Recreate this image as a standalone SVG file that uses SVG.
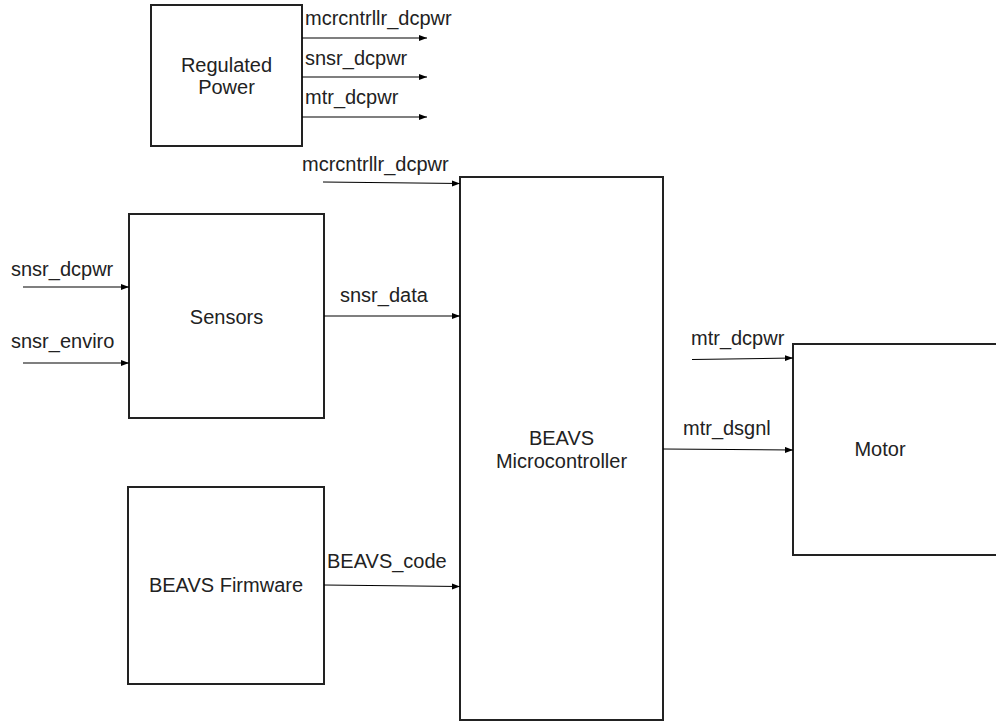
<svg xmlns="http://www.w3.org/2000/svg" width="996" height="721" viewBox="0 0 996 721">
<defs>
<marker id="arr" markerUnits="userSpaceOnUse" markerWidth="9" markerHeight="7" refX="8" refY="3" orient="auto">
<path d="M0,0 L8,3 L0,6 z" fill="#000"/>
</marker>
<style>
.box{fill:#fff;stroke:#222;stroke-width:2}
.lbl{font-family:"Liberation Sans",Arial,sans-serif;font-size:20px;fill:#222}
.mid{text-anchor:middle}
.conn line{stroke:#000;stroke-width:1.1;marker-end:url(#arr)}
</style>
</defs>
<rect width="996" height="721" fill="#fff"/>
<g id="regulated-power">
<rect class="box" x="151" y="5" width="151" height="141"/>
<text class="lbl mid" x="226.5" y="72">Regulated</text>
<text class="lbl mid" x="226.5" y="94">Power</text>
</g>
<g id="sensors">
<rect class="box" x="129" y="214" width="195" height="204"/>
<text class="lbl mid" x="226.5" y="324">Sensors</text>
</g>
<g id="firmware">
<rect class="box" x="128" y="487" width="196" height="197"/>
<text class="lbl mid" x="226" y="592">BEAVS Firmware</text>
</g>
<g id="microcontroller">
<rect class="box" x="460" y="177" width="203" height="543"/>
<text class="lbl mid" x="561.5" y="445">BEAVS</text>
<text class="lbl mid" x="561.5" y="468">Microcontroller</text>
</g>
<g id="motor">
<rect class="box" x="793" y="344" width="210" height="211"/>
<text class="lbl mid" x="880" y="456">Motor</text>
</g>
<g id="connectors" class="conn">
<line x1="302" y1="38" x2="427" y2="38"/>
<line x1="302" y1="77" x2="427" y2="77"/>
<line x1="302" y1="117" x2="427" y2="117"/>
<line x1="323" y1="182" x2="460" y2="183.5"/>
<line x1="23" y1="287" x2="129" y2="287"/>
<line x1="23" y1="363" x2="129" y2="363"/>
<line x1="324" y1="316" x2="460" y2="316"/>
<line x1="324" y1="585" x2="460" y2="586.5"/>
<line x1="692" y1="359.5" x2="793" y2="358"/>
<line x1="663" y1="449" x2="793" y2="450"/>
</g>
<g id="labels">
<text class="lbl" x="305" y="25">mcrcntrllr_dcpwr</text>
<text class="lbl" x="305" y="65">snsr_dcpwr</text>
<text class="lbl" x="305" y="104">mtr_dcpwr</text>
<text class="lbl" x="302" y="171">mcrcntrllr_dcpwr</text>
<text class="lbl" x="11" y="276">snsr_dcpwr</text>
<text class="lbl" x="11" y="348">snsr_enviro</text>
<text class="lbl" x="340" y="302">snsr_data</text>
<text class="lbl" x="327" y="568">BEAVS_code</text>
<text class="lbl" x="691" y="345">mtr_dcpwr</text>
<text class="lbl" x="683" y="435">mtr_dsgnl</text>
</g>
</svg>
